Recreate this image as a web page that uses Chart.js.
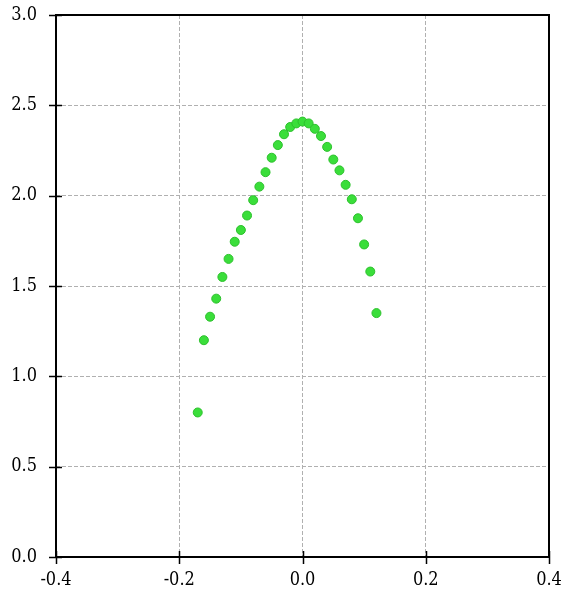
<!DOCTYPE html>
<html>
<head>
<meta charset="utf-8">
<script src="https://cdn.jsdelivr.net/npm/chart.js@4"></script>
<style>
  html, body { margin: 0; padding: 0; background: #fff; }
  #wrap { width: 566px; height: 593px; }
</style>
</head>
<body>
<div id="wrap"><canvas id="myChart" width="566" height="593"></canvas></div>
<script>
const xs = [-0.17, -0.16, -0.15, -0.14, -0.13, -0.12, -0.11, -0.10, -0.09, -0.08,
            -0.07, -0.06, -0.05, -0.04, -0.03, -0.02, -0.01, 0.00, 0.01, 0.02,
            0.03, 0.04, 0.05, 0.06, 0.07, 0.08, 0.09, 0.10, 0.11, 0.12]
const ys = [0.80, 1.20, 1.33, 1.43, 1.55, 1.65, 1.745, 1.81, 1.89, 1.975,
            2.05, 2.13, 2.21, 2.28, 2.34, 2.38, 2.40, 2.41, 2.40, 2.37,
            2.33, 2.27, 2.20, 2.14, 2.06, 1.98, 1.875, 1.73, 1.58, 1.35]
const xTicks = [-0.4, -0.2, 0.0, 0.2, 0.4]
const yTicks = [0.0, 0.5, 1.0, 1.5, 2.0, 2.5, 3.0]

const points = []
for (let i = 0; i < xs.length; i++) {
  points.push({ x: xs[i], y: ys[i] })
}

// frame around the plot plus tick marks that cross the axis line
const frame = {
  id: 'frame',
  afterDraw(chart) {
    const c = chart.ctx
    const a = chart.chartArea
    const sx = chart.scales.x
    const sy = chart.scales.y
    c.save()
    c.strokeStyle = '#000'
    c.lineWidth = 2
    c.strokeRect(a.left, a.top, a.right - a.left, a.bottom - a.top)
    c.lineWidth = 1.5
    c.beginPath()
    xTicks.forEach(v => {
      const px = Math.round(sx.getPixelForValue(v)) + 0.5
      c.moveTo(px, a.bottom - 6)
      c.lineTo(px, a.bottom + 7)
    })
    yTicks.forEach(v => {
      const py = Math.round(sy.getPixelForValue(v)) + 0.5
      c.moveTo(a.left - 7, py)
      c.lineTo(a.left + 6, py)
    })
    c.stroke()
    c.restore()
  }
}

const font = { family: "'DejaVu Serif Condensed', 'DejaVu Serif', serif", size: 18 }

new Chart(document.getElementById('myChart'), {
  type: 'scatter',
  data: {
    datasets: [{
      data: points,
      backgroundColor: '#3ade3a',
      borderColor: '#2cc02c',
      borderWidth: 1,
      pointRadius: 4.5
    }]
  },
  plugins: [frame],
  options: {
    responsive: false,
    animation: false,
    layout: { padding: { top: 15, right: 17, left: 0, bottom: 0 } },
    plugins: { legend: { display: false }, tooltip: { enabled: false } },
    scales: {
      x: {
        type: 'linear',
        min: -0.4,
        max: 0.4,
        afterBuildTicks: s => { s.ticks = xTicks.map(v => ({ value: v })) },
        afterFit: s => {
          s.height = 36
          s.paddingLeft = 0
          s.paddingRight = 0
        },
        grid: {
          drawTicks: false,
          color: '#b0b0b0',
          lineWidth: 1
        },
        border: { display: false, dash: [4, 2] },
        ticks: {
          color: '#000',
          font: font,
          padding: 13,
          maxRotation: 0,
          callback: v => v.toFixed(1)
        }
      },
      y: {
        type: 'linear',
        min: 0,
        max: 3,
        afterBuildTicks: s => { s.ticks = yTicks.map(v => ({ value: v })) },
        afterFit: s => {
          s.width = 56
          s.paddingTop = 0
          s.paddingBottom = 0
        },
        grid: {
          drawTicks: false,
          color: '#b0b0b0',
          lineWidth: 1
        },
        border: { display: false, dash: [4, 2] },
        ticks: {
          color: '#000',
          font: font,
          padding: 19,
          callback: v => v.toFixed(1)
        }
      }
    }
  }
})
</script>
</body>
</html>
